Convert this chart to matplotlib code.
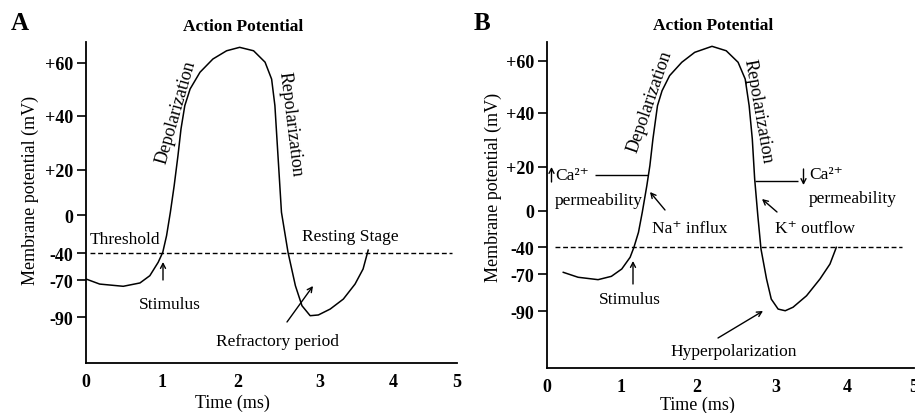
import numpy as np
import matplotlib.pyplot as plt

plt.rcParams['font.family'] = ['Liberation Serif', 'DejaVu Serif']

# Action potential traces (time in ms, potential in mV)
time_a = [0.0, 0.18, 0.49, 0.71, 0.84, 0.95, 1.01, 1.06, 1.11, 1.16, 1.21, 1.25,
          1.30, 1.37, 1.50, 1.67, 1.85, 2.02, 2.19, 2.33, 2.41, 2.45, 2.48, 2.50,
          2.53, 2.61, 2.70, 2.78, 2.88, 2.98, 3.14, 3.32, 3.48, 3.59, 3.66]
mv_a = [-68.9, -72.2, -73.4, -71.6, -65.2, -50.3, -39.3, -21.8, 1.2, 12.9, 25.2, 35.1,
        43.8, 50.1, 56.4, 61.4, 64.5, 65.8, 64.5, 60.2, 53.8, 43.8, 28.9, 18.9,
        1.2, -39.3, -73.1, -83.9, -89.3, -88.9, -85.7, -80.3, -72.2, -57.8, -37]

time_b = [0.22, 0.42, 0.69, 0.87, 1.01, 1.12, 1.17, 1.23, 1.28, 1.34, 1.38, 1.42,
          1.48, 1.54, 1.64, 1.80, 1.97, 2.19, 2.37, 2.52, 2.61, 2.66, 2.70, 2.73,
          2.77, 2.81, 2.88, 2.94, 3.03, 3.13, 3.24, 3.43, 3.62, 3.76, 3.85]
mv_b = [-67.8, -71.6, -72.9, -71.1, -64.1, -51.1, -40, -23.6, -1.7, 11.4, 20.4, 30.3,
        42.8, 48.5, 54.3, 59.4, 63.2, 65.5, 63.8, 59.4, 53.0, 42.8, 30.3, 14.4,
        -5.5, -41.9, -72.5, -83.4, -88.8, -89.7, -87.8, -81.6, -72.5, -58.6, -40]

y_ticks = [-90, -70, -40, 0, 20, 40, 60]
y_labels = ['-90', '-70', '-40', '0', '+20', '+40', '+60']
x_ticks = [0, 1, 2, 3, 4, 5]
threshold = -40
ca_up = 16.4      # level of the "Ca2+ permeability" marker lines
ca_down = 13.6

W, H = 915, 414
fig = plt.figure(figsize=(W / 100, H / 100), dpi=100)


def fp(x, y):
    # pixel position -> figure fraction
    return (x / W, 1 - y / H)


def piecewise(vals, pix, sign):
    # the drawn axes are not linear: map tick values to their pixel rows/cols
    vals = list(vals)
    pix = list(pix)
    s0 = (pix[1] - pix[0]) / (vals[1] - vals[0])
    s1 = (pix[-1] - pix[-2]) / (vals[-1] - vals[-2])
    v = [vals[0] - 1000] + vals + [vals[-1] + 1000]
    p = [pix[0] - 1000 * s0] + pix + [pix[-1] + 1000 * s1]
    p = [sign * q for q in p]
    fwd = lambda a: np.interp(a, v, p)
    inv = lambda a: np.interp(a, p, v)
    return fwd, inv


def make_panel(box, xpix, ypix):
    left, top, right, bottom = box
    ax = fig.add_axes([left / W, 1 - bottom / H, (right - left) / W, (bottom - top) / H])
    xf, xi = piecewise(x_ticks, xpix, 1)
    yf, yi = piecewise(y_ticks, ypix, -1)
    ax.set_xscale('function', functions=(xf, xi))
    ax.set_yscale('function', functions=(yf, yi))
    ax.set_xlim(float(xi(left)), float(xi(right)))
    ax.set_ylim(float(yi(-bottom)), float(yi(-top)))
    for s in ['top', 'right']:
        ax.spines[s].set_visible(False)
    for s in ['left', 'bottom']:
        ax.spines[s].set_linewidth(1.3)
    ax.set_yticks(y_ticks)
    ax.set_yticklabels(y_labels, fontweight='bold', fontsize=13)
    ax.set_xticks(x_ticks)
    ax.set_xticklabels([str(t) for t in x_ticks], fontweight='bold', fontsize=13)
    ax.tick_params(axis='y', length=6.5, width=1.2, pad=3)
    ax.tick_params(axis='x', length=0, pad=7)
    ax.patch.set_alpha(0)
    return ax


def arrow(start, end):
    fig.add_artist(plt.Annotation(
        '', xy=fp(*end), xytext=fp(*start), xycoords='figure fraction',
        textcoords='figure fraction',
        arrowprops=dict(arrowstyle='->,head_length=0.35,head_width=0.18',
                        lw=1, color='black', shrinkA=0, shrinkB=0)))


def label(x, y, s, **kw):
    kw.setdefault('ha', 'center')
    kw.setdefault('va', 'center')
    kw.setdefault('fontsize', 12.5)
    fig.text(*fp(x, y), s, **kw)


dash = (0, (3.5, 2))

# ---------------- panel A ----------------
ax_a = make_panel((86, 43, 457, 364),
                  [86, 162, 238, 320, 393, 457],
                  [318, 281, 254, 216, 170.7, 116.7, 63.7])
ax_a.plot(time_a, mv_a, color='black', lw=1.1)
ax_a.hlines(threshold, 0.05, 4.92, colors='black', lw=1, linestyles=dash)

label(20, 24, 'A', fontsize=18, fontweight='bold')
label(243, 27, 'Action Potential', fontsize=12.5, fontweight='bold')
label(30, 190, 'Membrane potential (mV)', fontsize=13, rotation=90)
label(232, 403, 'Time (ms)', fontsize=13)
label(176, 112, 'Depolarization', fontsize=13, rotation=74)
label(290, 124, 'Repolarization', fontsize=13, rotation=-83)
label(90, 240, 'Threshold', ha='left')
label(170, 305, 'Stimulus')
arrow((163, 281), (163, 263))
label(350, 237, 'Resting Stage')
label(278, 342, 'Refractory period')
arrow((287, 323), (313, 287))

# ---------------- panel B ----------------
ax_b = make_panel((547, 43, 914, 369),
                  [547, 621, 697, 776, 847, 914],
                  [312.3, 275.3, 248.3, 211.7, 167.7, 114, 61.7])
ax_b.plot(time_b, mv_b, color='black', lw=1.1)
ax_b.hlines(threshold, 0.11, 4.82, colors='black', lw=1, linestyles=dash)
ax_b.hlines(ca_up, 0.65, 1.36, colors='black', lw=1)
ax_b.hlines(ca_down, 2.73, 3.31, colors='black', lw=1)

label(482, 23, 'B', fontsize=18, fontweight='bold')
label(713, 26, 'Action Potential', fontsize=12.5, fontweight='bold')
label(493, 187, 'Membrane potential (mV)', fontsize=13, rotation=90)
label(697, 405, 'Time (ms)', fontsize=13)
label(650, 102, 'Depolarization', fontsize=13, rotation=71)
label(758, 112, 'Repolarization', fontsize=13, rotation=-80)

arrow((551.5, 183), (551.5, 168))
label(555, 176.5, 'Ca²⁺', ha='left')
label(555, 201.5, 'permeability', ha='left')
arrow((803.5, 170), (803.5, 186))
label(809, 175.5, 'Ca²⁺', ha='left')
label(809, 199, 'permeability', ha='left')

label(690, 229, 'Na⁺ influx')
arrow((665, 211), (650, 193))
label(775, 229, 'K⁺ outflow', ha='left')
arrow((777, 213), (762, 200))
label(630, 300, 'Stimulus')
arrow((633, 285), (633, 262))
label(734, 352, 'Hyperpolarization')
arrow((718, 339), (763, 312))

fig.savefig('out.png', dpi=100)
